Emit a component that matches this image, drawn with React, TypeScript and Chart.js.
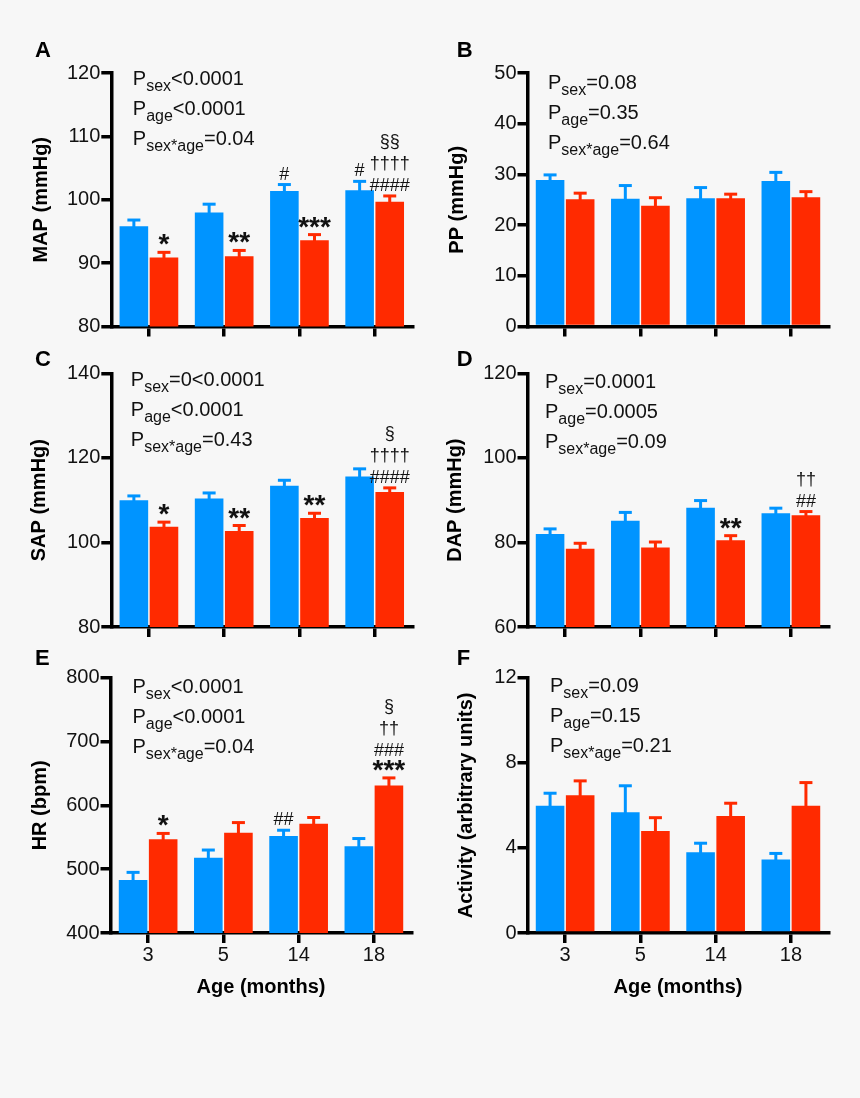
import React, { useEffect, useRef } from "react";
import { Chart, registerables } from "chart.js";

Chart.register(...registerables);

const FONT = "'Liberation Sans', Arial, Helvetica, sans-serif";
const BLUE = "#0094FF";
const RED = "#FF2A00";
const BG = "#F7F7F7";
const INK = "#111111";

// ---------- data ----------
const ageLabels = ["3", "5", "14", "18"];

// A: MAP
const mapMale = [95.8, 98.0, 101.4, 101.5];
const mapMaleErr = [1.0, 1.3, 1.0, 1.4];
const mapFemale = [90.9, 91.1, 93.6, 99.7];
const mapFemaleErr = [0.8, 0.9, 0.9, 0.9];
const mapTicks = [80, 120, 10];
const mapP = [["sex", "<0.0001"], ["age", "<0.0001"], ["sex*age", "=0.04"]];

// B: PP
const ppMale = [28.9, 25.2, 25.3, 28.7];
const ppMaleErr = [1.0, 2.6, 2.1, 1.7];
const ppFemale = [25.1, 23.8, 25.3, 25.5];
const ppFemaleErr = [1.2, 1.6, 0.8, 1.1];
const ppTicks = [0, 50, 10];
const ppP = [["sex", "=0.08"], ["age", "=0.35"], ["sex*age", "=0.64"]];

// C: SAP
const sapMale = [110.0, 110.4, 113.4, 115.6];
const sapMaleErr = [1.0, 1.3, 1.3, 1.8];
const sapFemale = [103.7, 102.7, 105.8, 111.9];
const sapFemaleErr = [1.1, 1.3, 1.1, 1.0];
const sapTicks = [80, 140, 20];
const sapP = [["sex", "=0<0.0001"], ["age", "<0.0001"], ["sex*age", "=0.43"]];

// D: DAP
const dapMale = [82.0, 85.1, 88.2, 86.9];
const dapMaleErr = [1.2, 2.0, 1.7, 1.2];
const dapFemale = [78.5, 78.8, 80.5, 86.4];
const dapFemaleErr = [1.3, 1.3, 1.1, 0.9];
const dapTicks = [60, 120, 20];
const dapP = [["sex", "=0.0001"], ["age", "=0.0005"], ["sex*age", "=0.09"]];

// E: HR
const hrMale = [483, 518, 552, 536];
const hrMaleErr = [12, 12, 9, 12];
const hrFemale = [547, 557, 571, 631];
const hrFemaleErr = [9, 16, 10, 12];
const hrTicks = [400, 800, 100];
const hrP = [["sex", "<0.0001"], ["age", "<0.0001"], ["sex*age", "=0.04"]];

// F: Activity
const actMale = [5.98, 5.67, 3.79, 3.45];
const actMaleErr = [0.59, 1.25, 0.43, 0.29];
const actFemale = [6.47, 4.79, 5.5, 5.98];
const actFemaleErr = [0.68, 0.63, 0.6, 1.09];
const actTicks = [0, 12, 4];
const actP = [["sex", "=0.09"], ["age", "=0.15"], ["sex*age", "=0.21"]];

// significance marks: [series (0 male, 1 female), category index, lines bottom-up]
const mapMarks = [
  [1, 0, ["*"]],
  [1, 1, ["**"]],
  [1, 2, ["***"]],
  [0, 2, ["#"]],
  [0, 3, ["#"]],
  [1, 3, ["####", "††††", "§§"]],
];
const ppMarks: any[] = [];
const sapMarks = [
  [1, 0, ["*"]],
  [1, 1, ["**"]],
  [1, 2, ["**"]],
  [1, 3, ["####", "††††", "§"]],
];
const dapMarks = [
  [1, 2, ["**"]],
  [1, 3, ["##", "††"]],
];
const hrMarks = [
  [1, 0, ["*"]],
  [0, 2, ["##"]],
  [1, 3, ["***", "###", "††", "§"]],
];
const actMarks: any[] = [];

// ---------- layout ----------
type Layout = {
  left: number; top: number; w: number; h: number;
  cl: number; ct: number; cr: number; cb: number;
  titleCx: number; pDx: number; pDy: number; lx: number; ly: number;
  xLabels: boolean;
};

const panels = [
  {
    letter: "A", yTitle: "MAP (mmHg)", ticks: mapTicks, male: mapMale, maleErr: mapMaleErr,
    female: mapFemale, femaleErr: mapFemaleErr, p: mapP, marks: mapMarks,
    lay: { left: 0, top: 30, w: 430, h: 315, cl: 111.3, ct: 43, cr: 412.3, cb: 296.5, titleCx: 41.7, pDx: 21.5, pDy: 11.5, lx: 35, ly: 27.3, xLabels: false } as Layout,
  },
  {
    letter: "B", yTitle: "PP (mmHg)", ticks: ppTicks, male: ppMale, maleErr: ppMaleErr,
    female: ppFemale, femaleErr: ppFemaleErr, p: ppP, marks: ppMarks,
    lay: { left: 430, top: 30, w: 430, h: 315, cl: 97.5, ct: 43, cr: 398.5, cb: 296.5, titleCx: 27.3, pDx: 20.5, pDy: 16, lx: 26.7, ly: 26.7, xLabels: false } as Layout,
  },
  {
    letter: "C", yTitle: "SAP (mmHg)", ticks: sapTicks, male: sapMale, maleErr: sapMaleErr,
    female: sapFemale, femaleErr: sapFemaleErr, p: sapP, marks: sapMarks,
    lay: { left: 0, top: 345, w: 430, h: 305, cl: 111.3, ct: 28.3, cr: 412.3, cb: 282, titleCx: 39.3, pDx: 19.5, pDy: 12.7, lx: 35, ly: 21, xLabels: false } as Layout,
  },
  {
    letter: "D", yTitle: "DAP (mmHg)", ticks: dapTicks, male: dapMale, maleErr: dapMaleErr,
    female: dapFemale, femaleErr: dapFemaleErr, p: dapP, marks: dapMarks,
    lay: { left: 430, top: 345, w: 430, h: 305, cl: 97.5, ct: 28.3, cr: 398.5, cb: 282, titleCx: 25, pDx: 17.5, pDy: 14.4, lx: 26.7, ly: 21, xLabels: false } as Layout,
  },
  {
    letter: "E", yTitle: "HR (bpm)", ticks: hrTicks, male: hrMale, maleErr: hrMaleErr,
    female: hrFemale, femaleErr: hrFemaleErr, p: hrP, marks: hrMarks,
    lay: { left: 0, top: 650, w: 430, h: 360, cl: 110.5, ct: 27.7, cr: 411.5, cb: 283, titleCx: 40, pDx: 22, pDy: 15.6, lx: 35, ly: 15, xLabels: true } as Layout,
  },
  {
    letter: "F", yTitle: "Activity (arbitrary units)", ticks: actTicks, male: actMale, maleErr: actMaleErr,
    female: actFemale, femaleErr: actFemaleErr, p: actP, marks: actMarks,
    lay: { left: 430, top: 650, w: 430, h: 360, cl: 97.5, ct: 27.7, cr: 398.5, cb: 283, titleCx: 36, pDx: 22.5, pDy: 14.6, lx: 26.7, ly: 15, xLabels: true } as Layout,
  },
];

function makePlugin(panel: any) {
  return {
    id: "panelDecor" + panel.letter,
    afterDatasetsDraw(chart: any) {
      const ctx = chart.ctx;
      const yScale = chart.scales.y;
      const errs = [panel.maleErr, panel.femaleErr];
      const colors = [BLUE, RED];
      const caps: number[][] = [[], []];
      ctx.save();
      chart.data.datasets.forEach((ds: any, di: number) => {
        const meta = chart.getDatasetMeta(di);
        meta.data.forEach((bar: any, i: number) => {
          const v = ds.data[i];
          const yTop = yScale.getPixelForValue(v + errs[di][i]);
          caps[di][i] = yTop;
          ctx.strokeStyle = colors[di];
          ctx.lineWidth = 3;
          ctx.lineCap = "butt";
          ctx.beginPath();
          ctx.moveTo(bar.x, bar.y + 1);
          ctx.lineTo(bar.x, yTop);
          ctx.stroke();
          ctx.beginPath();
          ctx.moveTo(bar.x - 6.5, yTop);
          ctx.lineTo(bar.x + 6.5, yTop);
          ctx.stroke();
        });
      });
      // significance marks
      ctx.fillStyle = INK;
      ctx.textAlign = "center";
      ctx.textBaseline = "alphabetic";
      panel.marks.forEach((m: any) => {
        const [series, cat, lines] = m;
        const bar = chart.getDatasetMeta(series).data[cat];
        let y = caps[series][cat] - 5;
        lines.forEach((line: string) => {
          if (line.startsWith("*")) {
            ctx.font = `bold 28px ${FONT}`;
            ctx.fillText(line, bar.x, y + 6);
            y -= 17;
          } else {
            ctx.font = `18px ${FONT}`;
            ctx.fillText(line, bar.x, y);
            y -= 22;
          }
        });
      });
      ctx.restore();
    },
    afterDraw(chart: any) {
      const ctx = chart.ctx;
      const ca = chart.chartArea;
      const lay = panel.lay;
      ctx.save();
      ctx.fillStyle = INK;
      ctx.textAlign = "left";
      ctx.textBaseline = "alphabetic";
      panel.p.forEach((pl: string[], i: number) => {
        let x = ca.left + lay.pDx;
        const y = ca.top + lay.pDy + i * 30;
        ctx.font = `20px ${FONT}`;
        ctx.fillText("P", x, y);
        x += ctx.measureText("P").width;
        ctx.font = `16px ${FONT}`;
        ctx.fillText(pl[0], x, y + 6);
        x += ctx.measureText(pl[0]).width;
        ctx.font = `20px ${FONT}`;
        ctx.fillText(pl[1], x, y);
      });
      ctx.font = `bold 22px ${FONT}`;
      ctx.fillStyle = "#000";
      ctx.fillText(panel.letter, lay.lx, lay.ly);
      ctx.restore();
    },
  };
}

function Panel({ panel }: { panel: any }) {
  const ref = useRef<HTMLCanvasElement | null>(null);
  useEffect(() => {
    const canvas = ref.current;
    if (!canvas) return;
    const lay: Layout = panel.lay;
    const [ymin, ymax, ystep] = panel.ticks;
    const padLeft = lay.titleCx - 12;
    const yWidth = lay.cl - padLeft;
    const xHeight = lay.xLabels ? 66 : 20;
    const padBottom = lay.h - lay.cb - xHeight;
    const chart = new Chart(canvas, {
      type: "bar",
      data: {
        labels: ageLabels,
        datasets: [
          { label: "Male", data: panel.male, backgroundColor: BLUE, borderWidth: 0, categoryPercentage: 0.8, barPercentage: 0.95 },
          { label: "Female", data: panel.female, backgroundColor: RED, borderWidth: 0, categoryPercentage: 0.8, barPercentage: 0.95 },
        ],
      },
      options: {
        responsive: false,
        animation: false,
        events: [],
        layout: { padding: { left: padLeft, top: lay.ct, right: lay.w - lay.cr, bottom: padBottom } },
        plugins: { legend: { display: false }, tooltip: { enabled: false }, title: { display: false } },
        scales: {
          x: {
            offset: true,
            grid: { offset: false, drawOnChartArea: false, drawTicks: true, tickLength: 10, tickWidth: 3.5, tickColor: "#000", color: "#000", lineWidth: 3.5 },
            border: { display: true, color: "#000", width: 3.5 },
            ticks: { display: lay.xLabels, color: INK, padding: 0, font: { family: FONT, size: 20 } },
            title: { display: lay.xLabels, text: "Age (months)", color: "#000", padding: 0, font: { family: FONT, size: 20, weight: "bold" } },
            afterFit: (s: any) => { s.height = xHeight; },
          },
          y: {
            min: ymin,
            max: ymax,
            ticks: { stepSize: ystep, color: INK, padding: 1, font: { family: FONT, size: 20 } },
            grid: { drawOnChartArea: false, drawTicks: true, tickLength: 10, tickWidth: 3.5, tickColor: "#000", color: "#000", lineWidth: 3.5 },
            border: { display: true, color: "#000", width: 3.5 },
            title: { display: true, text: panel.yTitle, color: "#000", padding: 0, font: { family: FONT, size: 20, weight: "bold" } },
            afterFit: (s: any) => { s.width = yWidth; },
          },
        },
      },
      plugins: [makePlugin(panel)],
    } as any);
    return () => chart.destroy();
  }, [panel]);
  const lay: Layout = panel.lay;
  return (
    <canvas
      ref={ref}
      width={lay.w}
      height={lay.h}
      style={{ position: "absolute", left: lay.left, top: lay.top, width: lay.w, height: lay.h }}
    />
  );
}

export default function App() {
  useEffect(() => {
    document.body.style.background = BG;
  }, []);
  return (
    <div style={{ position: "absolute", left: 0, top: 0, width: 860, height: 1098, background: BG, overflow: "hidden" }}>
      {panels.map((p) => (
        <Panel key={p.letter} panel={p} />
      ))}
    </div>
  );
}
